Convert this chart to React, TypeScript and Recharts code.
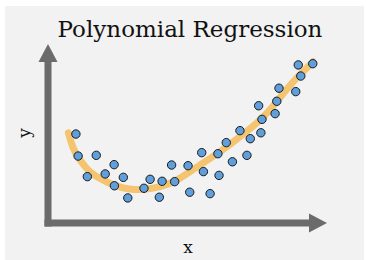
import React from 'react';
import { ComposedChart, XAxis, YAxis, Line, Scatter } from 'recharts';

const pointX = [1.0, 1.08, 1.73, 1.41, 2.05, 2.37, 2.38, 2.7, 2.86, 3.44, 3.66, 3.99, 4.09, 4.43, 4.54, 5.02, 5.08, 5.51, 5.57, 5.81, 6.09, 6.13, 6.39, 6.61, 6.88, 7.13, 7.25, 7.55, 7.67, 7.63, 8.14, 8.2, 8.28, 8.88, 8.97, 9.06, 9.49];
const pointY = [4.97, 3.74, 3.78, 2.59, 2.74, 3.26, 2.08, 2.55, 1.4, 1.94, 2.44, 1.44, 2.33, 3.24, 2.31, 3.2, 1.72, 3.93, 2.87, 1.64, 3.87, 2.66, 4.49, 3.42, 5.16, 3.78, 4.71, 6.55, 5.79, 5.04, 6.11, 6.8, 7.53, 7.34, 8.83, 8.21, 8.9];

const curveX = [0.73, 0.91, 1.15, 1.51, 1.98, 2.46, 2.94, 3.42, 4.01, 4.61, 5.09, 5.45, 6.16, 6.88, 7.6, 8.2, 8.79, 9.5];
const curveY = [5.04, 4.17, 3.52, 2.86, 2.4, 2.07, 1.9, 1.88, 2.03, 2.4, 2.87, 3.24, 3.98, 4.82, 5.75, 6.78, 7.89, 9.01];

const title = 'Polynomial Regression';
const xLabel = 'x';
const yLabel = 'y';

const points = pointX.map((x, i) => ({ x, y: pointY[i] }));
const curve = curveX.map((x, i) => ({ x, y: curveY[i] }));

const W = 366;
const H = 260;
const PL = 48;
const PR = 327;
const PT = 44;
const PB = 223;
const AX = '#6b6b6b';
const FONT = '"DejaVu Serif", serif';

export default function App() {
  return (
    <div style={{ position: 'absolute', left: 0, top: 0, width: W, height: H, background: '#ffffff' }}>
      <div style={{ position: 'absolute', left: 5, top: 6, width: 359, height: 254, background: '#f2f2f2' }} />
      <svg width={W} height={H} style={{ position: 'absolute', left: 0, top: 0 }}>
        <rect x={PL - 3.5} y={PT + 14} width={7} height={PB - PT - 14 + 3.5} fill={AX} />
        <polygon points={`${PL},${PT} ${PL - 9.5},${PT + 18} ${PL + 9.5},${PT + 18}`} fill={AX} />
        <rect x={PL - 3.5} y={PB - 3.5} width={PR - PL - 14} height={7} fill={AX} />
        <polygon points={`${PR},${PB} ${PR - 18},${PB - 9.5} ${PR - 18},${PB + 9.5}`} fill={AX} />
        <text x={190} y={37} textAnchor="middle" fontFamily={FONT} fontSize={23} fill="#111">{title}</text>
        <text x={188} y={253} textAnchor="middle" fontFamily={FONT} fontSize={17} fill="#111">{xLabel}</text>
        <text x={0} y={0} transform="translate(30,133) rotate(-90)" textAnchor="middle" fontFamily={FONT} fontSize={17} fill="#111">{yLabel}</text>
      </svg>
      <div style={{ position: 'absolute', left: 0, top: 0 }}>
        <ComposedChart width={W} height={H} margin={{ top: PT, right: W - PR, bottom: H - PB, left: PL }}>
          <XAxis type="number" dataKey="x" domain={[0, 10]} hide />
          <YAxis type="number" dataKey="y" domain={[0, 10]} hide />
          <Line data={curve} dataKey="y" type="natural" stroke="#f4c470" strokeWidth={7} strokeLinecap="round" dot={false} activeDot={false} isAnimationActive={false} />
          <Scatter data={points} dataKey="y" fill="#5f9fdb" stroke="#1a1a1a" strokeWidth={1} isAnimationActive={false}
            shape={(p: any) => <circle cx={p.cx} cy={p.cy} r={4.2} fill="#5f9fdb" stroke="#1a1a1a" strokeWidth={1} />} />
        </ComposedChart>
      </div>
    </div>
  );
}
